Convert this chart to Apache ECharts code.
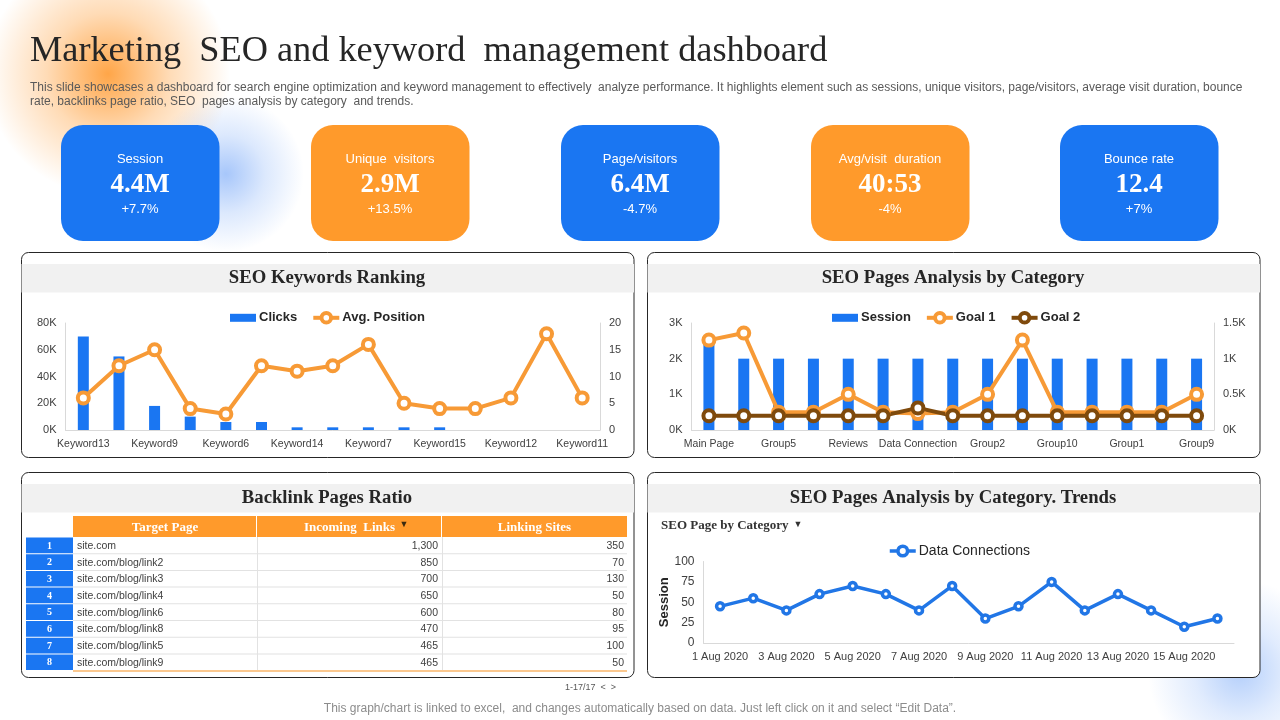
<!DOCTYPE html>
<html>
<head>
<meta charset="utf-8">
<title>Marketing SEO and keyword management dashboard</title>
<script src="https://cdn.jsdelivr.net/npm/echarts@6/dist/echarts.min.js"></script>
<style>
html,body{margin:0;padding:0;background:#fff;}
#container{width:1280px;height:720px;}
</style>
</head>
<body>
<div id="container"></div>
<script>
var BLUE = '#1a76f2', ORANGE = '#ff9a2b', BROWN = '#7f4a0c';
var SANS = '"Liberation Sans", Arial, sans-serif';
var SERIF = '"Liberation Serif", "Times New Roman", serif';

// kpi cards
var kpiNames = ['Session', 'Unique  visitors', 'Page/visitors', 'Avg/visit  duration', 'Bounce rate'];
var kpiValues = ['4.4M', '2.9M', '6.4M', '40:53', '12.4'];
var kpiChanges = ['+7.7%', '+13.5%', '-4.7%', '-4%', '+7%'];

// SEO keywords ranking
var keywords = ['Keyword13', '', 'Keyword9', '', 'Keyword6', '', 'Keyword14', '', 'Keyword7', '', 'Keyword15', '', 'Keyword12', '', 'Keyword11'];
var clicks = [70000, 55000, 18000, 10000, 6000, 6000, 2000, 2000, 2000, 2000, 2000, 0, 0, 0, 0];
var avgPosition = [6, 12, 15, 4, 3, 12, 11, 12, 16, 5, 4, 4, 6, 18, 6];

// SEO pages by category
var pages = ['Main Page', '', 'Group5', '', 'Reviews', '', 'Data Connection', '', 'Group2', '', 'Group10', '', 'Group1', '', 'Group9'];
var sessions = [2500, 2000, 2000, 2000, 2000, 2000, 2000, 2000, 2000, 2000, 2000, 2000, 2000, 2000, 2000];
var goal1 = [1260, 1360, 250, 250, 500, 250, 230, 250, 500, 1260, 250, 250, 250, 250, 500];
var goal2 = [200, 200, 200, 200, 200, 200, 310, 200, 200, 200, 200, 200, 200, 200, 200];

// trend
var trendDays = ['1 Aug 2020', '2 Aug 2020', '3 Aug 2020', '4 Aug 2020', '5 Aug 2020', '6 Aug 2020', '7 Aug 2020', '8 Aug 2020',
    '9 Aug 2020', '10 Aug 2020', '11 Aug 2020', '12 Aug 2020', '13 Aug 2020', '14 Aug 2020', '15 Aug 2020', '16 Aug 2020'];
var trendValues = [45, 55, 40, 60, 70, 60, 40, 70, 30, 45, 75, 40, 60, 40, 20, 30];

// backlink table
var tableHeads = ['Target Page', 'Incoming  Links', 'Linking Sites'];
var targetPages = ['site.com', 'site.com/blog/link2', 'site.com/blog/link3', 'site.com/blog/link4', 'site.com/blog/link6', 'site.com/blog/link8', 'site.com/blog/link5', 'site.com/blog/link9'];
var incomingLinks = ['1,300', '850', '700', '650', '600', '470', '465', '465'];
var linkingSites = ['350', '70', '130', '50', '80', '95', '100', '50'];

var panelTitles = ['SEO Keywords Ranking', 'SEO Pages Analysis by Category', 'Backlink Pages Ratio', 'SEO Pages Analysis by Category. Trends'];

var gfx = [];

function txt(s, x, y, font, fill, align, extra) {
    var style = {text: s, x: x, y: y + 1, font: font, fill: fill, textAlign: align || 'left', textVerticalAlign: 'middle'};
    for (var k in (extra || {})) style[k] = extra[k];
    gfx.push({type: 'text', z: 1, silent: true, style: style});
}
function box(x, y, w, h, fill, r, stroke) {
    gfx.push({type: 'rect', z: 0, silent: true, shape: {x: x, y: y, width: w, height: h, r: r || 0},
        style: {fill: fill, stroke: stroke || null, lineWidth: stroke ? 1 : 0}});
}
function glow(cx, cy, r, rgb, a) {
    gfx.push({type: 'circle', z: 0, silent: true, shape: {cx: cx, cy: cy, r: r}, style: {fill: {
        type: 'radial', x: 0.5, y: 0.5, r: 0.5,
        colorStops: [
            {offset: 0, color: 'rgba(' + rgb + ',' + a + ')'},
            {offset: 0.5, color: 'rgba(' + rgb + ',' + (a * 0.4) + ')'},
            {offset: 1, color: 'rgba(' + rgb + ',0)'}
        ]
    }}});
}

// soft glows behind the slide
glow(108, 74, 122, '255,150,40', 0.85);
glow(226, 174, 78, '60,130,245', 0.45);
glow(1240, 672, 92, '60,130,245', 0.38);

// header text
txt('Marketing  SEO and keyword  management dashboard', 30, 50, '36.3px ' + SERIF, '#262626');
txt('This slide showcases a dashboard for search engine optimization and keyword management to effectively  analyze performance. It highlights element such as sessions, unique visitors, page/visitors, average visit duration, bounce', 30, 87, '12px ' + SANS, '#595959');
txt('rate, backlinks page ratio, SEO  pages analysis by category  and trends.', 30, 101, '12px ' + SANS, '#595959');

// kpi cards
var cardX = [61, 311, 561, 811, 1060];
var textShadow = {shadowColor: 'rgba(0,0,0,0.35)', shadowBlur: 2, shadowOffsetX: 1, shadowOffsetY: 1};
kpiNames.forEach(function (name, i) {
    box(cardX[i], 125, 158.5, 116, i % 2 ? ORANGE : BLUE, 22);
    var mid = cardX[i] + 79;
    txt(name, mid, 158, '13px ' + SANS, '#fff', 'center', textShadow);
    txt(kpiValues[i], mid, 184, 'bold 27px ' + SERIF, '#fff', 'center', textShadow);
    txt(kpiChanges[i], mid, 208, '13px ' + SANS, '#fff', 'center', textShadow);
});

// panels
var panelX = [21.5, 647.5, 21.5, 647.5], panelY = [252.5, 252.5, 472.5, 472.5];
panelTitles.forEach(function (t, i) {
    box(panelX[i], panelY[i], 612.5, 205, '#fff', 7, '#262626');
    box(panelX[i], panelY[i] + 11.5, 612.5, 28.5, '#f1f1f1');
    txt(t, panelX[i] + 305.5, panelY[i] + 24.5, 'bold 18.7px ' + SERIF, '#262626', 'center');
});

// backlink table, columns and rows come from the arrays above
var colX = [26, 73, 257, 442, 627], headTop = 516, headH = 21, rowH = 16.7, rowTop = headTop + headH;
tableHeads.forEach(function (h, c) {
    box(colX[c + 1], headTop, colX[c + 2] - colX[c + 1] - (c < 2 ? 1 : 0), headH, ORANGE);
    var mid = (colX[c + 1] + colX[c + 2]) / 2;
    txt(h, mid, headTop + 11, 'bold 13px ' + SERIF, '#fff', 'center', textShadow);
});
txt('\u25BC', 404, headTop + 8, '9px ' + SANS, '#3a2a10', 'center');
targetPages.forEach(function (page, r) {
    var y = rowTop + r * rowH;
    box(colX[0], y + 0.5, colX[1] - colX[0], rowH - 1, BLUE);
    txt(String(r + 1), (colX[0] + colX[1]) / 2, y + 8, 'bold 10px ' + SERIF, '#fff', 'center');
    box(colX[1], y + rowH - 0.5, colX[4] - colX[1], 1, '#e2e2e2');
    txt(page, colX[1] + 4, y + 8, '10.5px ' + SANS, '#404040');
    txt(incomingLinks[r], colX[3] - 4, y + 8, '10.5px ' + SANS, '#404040', 'right');
    txt(linkingSites[r], colX[4] - 3, y + 8, '10.5px ' + SANS, '#404040', 'right');
});
box(colX[2], rowTop, 1, rowH * 8, '#e2e2e2');
box(colX[3], rowTop, 1, rowH * 8, '#e2e2e2');
box(colX[1], rowTop + rowH * 8 - 0.5, colX[4] - colX[1], 2, '#fbc88f');

txt('1-17/17  <  >', 565, 687, '9px ' + SANS, '#595959');
txt('SEO Page by Category', 661, 525, 'bold 13px ' + SERIF, '#333333');
txt('\u25BC', 798, 524, '9px ' + SANS, '#333333', 'center');
txt('This graph/chart is linked to excel,  and changes automatically based on data. Just left click on it and select \u201CEdit Data\u201D.', 640, 708, '12px ' + SANS, '#8c8c8c', 'center');

function kFormat(v) { return (v / 1000) + 'K'; }
function valueAxis(grid, pos, max, step, fmt) {
    return {
        type: 'value', gridIndex: grid, position: pos, min: 0, max: max, interval: step,
        splitLine: {show: false}, axisTick: {show: false},
        axisLine: {show: true, lineStyle: {color: '#d9d9d9'}},
        axisLabel: {color: '#404040', fontFamily: SANS, fontSize: 11, margin: 9, formatter: fmt}
    };
}
function catAxis(grid, names, size, gap) {
    return {
        type: 'category', gridIndex: grid, data: names,
        axisTick: {show: false},
        axisLine: {lineStyle: {color: '#d9d9d9'}},
        axisLabel: {color: '#404040', fontFamily: SANS, fontSize: size, interval: 1, margin: gap, hideOverlap: false}
    };
}
function lineSeries(name, data, color, x, y, size, width) {
    return {
        name: name, type: 'line', xAxisIndex: x, yAxisIndex: y, data: data, z: 5,
        symbol: 'circle', symbolSize: size, showSymbol: true,
        lineStyle: {color: color, width: width},
        itemStyle: {color: '#fff', borderColor: color, borderWidth: width}
    };
}
var barIcon = 'path://M0 0H26V8H0Z';
function legend(items, left, top, fontWeight, fontSize, gap) {
    return {
        data: items, left: left, top: top, itemWidth: 26, itemHeight: 12, itemGap: gap,
        lineStyle: {width: 'inherit'},
        itemStyle: {borderWidth: 'inherit'},
        textStyle: {color: '#262626', fontFamily: SANS, fontSize: fontSize, fontWeight: fontWeight, padding: [0, 0, 0, -2]}
    };
}

var trendAxis = valueAxis(2, 'left', 100, 25);
trendAxis.name = 'Session';
trendAxis.nameLocation = 'middle';
trendAxis.nameGap = 28;
trendAxis.nameTextStyle = {color: '#262626', fontFamily: SANS, fontSize: 13, fontWeight: 'bold'};
trendAxis.axisLabel.fontSize = 12;

var option = {
    animation: false,
    backgroundColor: '#fff',
    graphic: {elements: gfx},
    legend: [
        legend([{name: 'Clicks', icon: barIcon}, 'Avg. Position'], 225, 306, 'bold', 13, 14),
        legend([{name: 'Session', icon: barIcon}, 'Goal 1', 'Goal 2'], 827, 306, 'bold', 13, 14),
        legend(['Data Connections'], 883, 539, 'normal', 14, 10)
    ],
    grid: [
        {left: 65.5, right: 680, top: 323, height: 107},
        {left: 691.5, right: 66, top: 323, height: 107},
        {left: 703.5, right: 46, top: 561.5, height: 81.5}
    ],
    xAxis: [catAxis(0, keywords, 10.5, 9), catAxis(1, pages, 10.5, 9), catAxis(2, trendDays, 11, 8)],
    yAxis: [
        valueAxis(0, 'left', 80000, 20000, kFormat),
        valueAxis(0, 'right', 20, 5),
        valueAxis(1, 'left', 3000, 1000, kFormat),
        valueAxis(1, 'right', 1500, 500, kFormat),
        trendAxis
    ],
    series: [
        {name: 'Clicks', type: 'bar', xAxisIndex: 0, yAxisIndex: 0, data: clicks, barWidth: 11, itemStyle: {color: BLUE}},
        lineSeries('Avg. Position', avgPosition, '#f79a36', 0, 1, 11, 4),
        {name: 'Session', type: 'bar', xAxisIndex: 1, yAxisIndex: 2, data: sessions, barWidth: 11, itemStyle: {color: BLUE}},
        lineSeries('Goal 1', goal1, '#f79a36', 1, 3, 11, 4),
        lineSeries('Goal 2', goal2, BROWN, 1, 3, 11, 4),
        lineSeries('Data Connections', trendValues, '#2176e6', 2, 4, 7, 3.5)
    ]
};

var myChart = echarts.init(document.getElementById('container'), null, {renderer: 'canvas'});
myChart.setOption(option, true);
</script>
</body>
</html>
